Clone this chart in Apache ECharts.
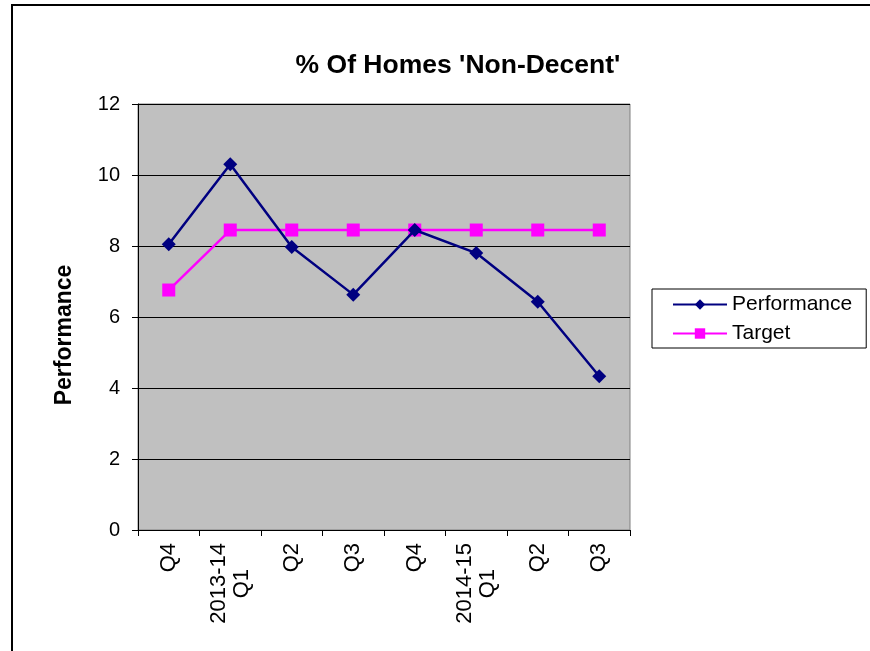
<!DOCTYPE html>
<html>
<head>
<meta charset="utf-8">
<script src="https://cdn.jsdelivr.net/npm/echarts@6/dist/echarts.min.js"></script>
<style>
  html, body { margin: 0; padding: 0; background: #fff; }
  #frame { position: absolute; left: 11px; top: 4px; width: 880px; height: 660px; border-left: 2px solid #000; border-top: 2px solid #000; box-sizing: border-box; }
  #chart { position: absolute; left: 0; top: 0; width: 870px; height: 651px; }
</style>
</head>
<body>
<div id="frame"></div>
<div id="chart"></div>
<script>
const categories = ['Q4', '2013-14\nQ1', 'Q2', 'Q3', 'Q4', '2014-15\nQ1', 'Q2', 'Q3'];
const performance = [8.05, 10.3, 7.97, 6.63, 8.45, 7.8, 6.43, 4.33];
const target = [6.76, 8.45, 8.45, 8.45, 8.45, 8.45, 8.45, 8.45];
const yTicks = { min: 0, max: 12, interval: 2 };

const FONT = "'Liberation Sans', Arial, sans-serif";
const chart = echarts.init(document.getElementById('chart'), null, { renderer: 'canvas' });
chart.setOption({
  animation: false,
  backgroundColor: 'transparent',
  title: {
    text: "% Of Homes 'Non-Decent'",
    left: 453, top: 47, textAlign: 'center',
    textStyle: { fontFamily: FONT, fontWeight: 'bold', fontSize: 26.5, color: '#000' }
  },
  legend: {
    orient: 'vertical',
    left: 652, top: 289,
    padding: [5, 14, 4, 20],
    itemGap: 8,
    itemWidth: 54,
    itemHeight: 13,
    borderColor: '#000', borderWidth: 1,
    textStyle: { fontFamily: FONT, fontSize: 21, color: '#000' },
    data: ['Performance', 'Target']
  },
  grid: {
    left: 138, right: 240, top: 104, bottom: 121,
    show: true, backgroundColor: '#c0c0c0', borderColor: '#808080', borderWidth: 1,
    containLabel: false
  },
  xAxis: {
    type: 'category',
    data: categories,
    boundaryGap: true,
    axisLine: { lineStyle: { color: '#000', width: 1 } },
    axisTick: { show: true, length: 6, inside: false, alignWithLabel: false, lineStyle: { color: '#000' } },
    axisLabel: {
      rotate: 90, margin: 13, interval: 0,
      fontFamily: FONT, fontSize: 22, color: '#000', lineHeight: 23,
      formatter: function (v) {
        if (v.indexOf('\n') >= 0) {
          const p = v.split('\n');
          return '{a|' + p[0] + '}\n{q|' + p[1] + '}';
        }
        return v;
      },
      rich: {
        a: { fontFamily: FONT, fontSize: 22, lineHeight: 23, color: '#000' },
        q: { fontFamily: FONT, fontSize: 22, lineHeight: 23, color: '#000', padding: [0, 26, 0, 0] }
      }
    },
    splitLine: { show: false }
  },
  yAxis: {
    type: 'value',
    min: yTicks.min, max: yTicks.max, interval: yTicks.interval,
    name: 'Performance',
    nameLocation: 'middle',
    nameGap: 62,
    nameTextStyle: { fontFamily: FONT, fontWeight: 'bold', fontSize: 23, color: '#000', padding: [0, 36, 0, 0] },
    axisLine: { show: true, lineStyle: { color: '#000', width: 1 } },
    axisTick: { show: true, length: 6, inside: false, lineStyle: { color: '#000' } },
    axisLabel: { margin: 18, fontFamily: FONT, fontSize: 20, color: '#000' },
    splitLine: { show: true, lineStyle: { color: '#000', width: 1 } }
  },
  series: [
    {
      name: 'Performance', type: 'line', data: performance,
      symbol: 'diamond', symbolSize: 14,
      lineStyle: { color: '#000080', width: 2.5 },
      itemStyle: { color: '#000080' },
      z: 3
    },
    {
      name: 'Target', type: 'line', data: target,
      symbol: 'rect', symbolSize: 13,
      lineStyle: { color: '#ff00ff', width: 2.5 },
      itemStyle: { color: '#ff00ff' },
      z: 2
    }
  ]
});
</script>
</body>
</html>
